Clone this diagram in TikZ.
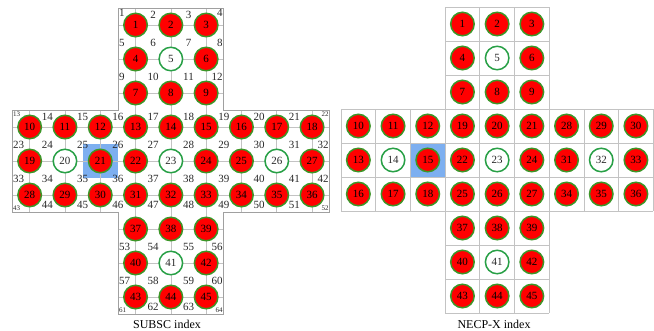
\documentclass[tikz,border=0pt]{standalone}
\usepackage{fontspec}
\setmainfont{Liberation Serif}
\definecolor{pinred}{RGB}{255,0,0}
\definecolor{pingreen}{RGB}{60,150,40}
\definecolor{ringgreen}{RGB}{40,160,70}
\definecolor{hl}{RGB}{125,175,240}
\definecolor{gridgray}{RGB}{195,195,195}
\definecolor{bordergray}{RGB}{160,160,160}
\definecolor{labgray}{RGB}{40,40,40}
\newcommand{\placepin}[5]{%
  \ifnum#5=1 \node[pine] (#4#3) at (#1,#2) {#3};%
  \else \node[pinf] (#4#3) at (#1,#2) {#3};\fi}
\newcommand{\slab}[5]{% k, m, n, kmin, kmax
  \pgfmathsetmacro{\lx}{12+35.3*#1}%
  \pgfmathsetmacro{\ly}{8+34*#2}%
  \pgfmathtruncatemacro{\edgerow}{((#2==0)||(#2==3)) ? 1 : (((#2==6)||(#2==9)) ? 2 : 0)}%
  \ifnum\edgerow=0
    \ifnum#1=#4 \node[sublab,anchor=west] (S#3) at (\lx+1,\ly+1) {#3};%
    \else\ifnum#1=#5 \node[sublab,anchor=east] (S#3) at (\lx-1,\ly+1) {#3};%
    \else \node[sublab] (S#3) at (\lx,\ly+1) {#3};\fi\fi
  \else
    \ifnum#3<10 \def\cst{sublab}\else\def\cst{cornlab}\fi
    \ifnum\edgerow=1
      \ifnum#1=#4 \node[\cst,anchor=north west] (S#3) at (\lx+1,\ly+1.5) {#3};%
      \else\ifnum#1=#5 \node[\cst,anchor=north east] (S#3) at (\lx-1,\ly+1.5) {#3};%
      \else \node[sublab] (S#3) at (\lx,\ly+6.5) {#3};\fi\fi
    \else
      \ifnum#1=#4 \node[cornlab,anchor=south west] (S#3) at (\lx+1,\ly-1) {#3};%
      \else\ifnum#1=#5 \node[cornlab,anchor=south east] (S#3) at (\lx-1,\ly-1) {#3};%
      \else \node[sublab] (S#3) at (\lx,\ly-7) {#3};\fi\fi
    \fi
  \fi}
\begin{document}
\begin{tikzpicture}[x=1pt,y=-1pt,
  pinf/.style={circle,fill=pinred,draw=pingreen,line width=1.5pt,minimum size=23.5pt,inner sep=0pt,font=\fontsize{11}{11}\selectfont},
  pine/.style={circle,fill=white,draw=ringgreen,line width=1.5pt,minimum size=23.5pt,inner sep=0pt,font=\fontsize{11}{11}\selectfont,text=labgray},
  sublab/.style={inner sep=0pt,font=\fontsize{11}{11}\selectfont,text=labgray},
  cornlab/.style={inner sep=0pt,font=\fontsize{7}{7}\selectfont,text=labgray},
  innerline/.style={draw=gridgray,line width=0.6pt},
  outline/.style={draw=bordergray,line width=0.8pt},
  necpline/.style={draw=gridgray,line width=0.7pt},
  hlcell/.style={fill=hl},
  caption/.style={font=\fontsize{12}{12}\selectfont,inner sep=0pt}]
\useasboundingbox (0,0) rectangle (654,330);
% ---------- highlighted cells ----------
\fill[hlcell] (12+35.3*2,8+34*4) rectangle (12+35.3*3,8+34*5);
\fill[hlcell] (341+34.7*2,7+34*4) rectangle (341+34.7*3,7+34*5);
% ---------- SUBSC grid (lines through pin centres) ----------
\foreach \ci in {3,4,5}{
  \draw[innerline] (12+35.3*\ci+17.65,8) -- (12+35.3*\ci+17.65,8+34*9);}
\foreach \ci in {0,1,2,6,7,8}{
  \draw[innerline] (12+35.3*\ci+17.65,8+34*3) -- (12+35.3*\ci+17.65,8+34*6);}
\foreach \ri in {3,4,5}{
  \draw[innerline] (12,8+34*\ri+17) -- (12+35.3*9,8+34*\ri+17);}
\foreach \ri in {0,1,2,6,7,8}{
  \draw[innerline] (12+35.3*3,8+34*\ri+17) -- (12+35.3*6,8+34*\ri+17);}
\draw[outline] (12+35.3*3,8) -- (12+35.3*6,8) -- (12+35.3*6,8+34*3) -- (12+35.3*9,8+34*3)
  -- (12+35.3*9,8+34*6) -- (12+35.3*6,8+34*6) -- (12+35.3*6,8+34*9) -- (12+35.3*3,8+34*9)
  -- (12+35.3*3,8+34*6) -- (12,8+34*6) -- (12,8+34*3) -- (12+35.3*3,8+34*3) -- cycle;
% ---------- NECP-X grid (cell boundaries) ----------
\foreach \ci in {0,...,9}{
  \draw[necpline] (341+34.7*\ci,7+34*3) -- (341+34.7*\ci,7+34*6);}
\foreach \ci in {3,4,5,6}{
  \draw[necpline] (341+34.7*\ci,7) -- (341+34.7*\ci,7+34*9);}
\foreach \ri in {3,4,5,6}{
  \draw[necpline] (341,7+34*\ri) -- (341+34.7*9,7+34*\ri);}
\foreach \ri in {0,...,9}{
  \draw[necpline] (341+34.7*3,7+34*\ri) -- (341+34.7*6,7+34*\ri);}
% ---------- pins ----------
\foreach \ri in {0,...,8}{
  \foreach \ci in {0,...,8}{
    \pgfmathtruncatemacro{\inarm}{((\ci>2)&&(\ci<6))||((\ri>2)&&(\ri<6))}
    \ifnum\inarm=1
      \pgfmathtruncatemacro{\nl}{\ri<3 ? 1+3*\ri+\ci-3 : (\ri<6 ? 10+9*(\ri-3)+\ci : 37+3*(\ri-6)+\ci-3)}
      \pgfmathtruncatemacro{\nr}{\ri<3 ? 1+3*\ri+\ci-3 : (\ri<6 ? 10+9*floor(\ci/3)+3*(\ri-3)+mod(\ci,3) : 37+3*(\ri-6)+\ci-3)}
      \pgfmathtruncatemacro{\el}{(\nl==5)||(\nl==20)||(\nl==23)||(\nl==26)||(\nl==41)}
      \pgfmathtruncatemacro{\er}{(\nr==5)||(\nr==14)||(\nr==23)||(\nr==32)||(\nr==41)}
      \pgfmathsetmacro{\xl}{12+35.3*(\ci+0.5)}
      \pgfmathsetmacro{\yl}{8+34*(\ri+0.5)}
      \pgfmathsetmacro{\xr}{341+34.7*(\ci+0.5)}
      \pgfmathsetmacro{\yr}{7+34*(\ri+0.5)}
      \placepin{\xl}{\yl}{\nl}{L}{\el}
      \placepin{\xr}{\yr}{\nr}{R}{\er}
    \fi
  }}
% ---------- SUBSC subchannel labels ----------
\foreach \m/\s in {0/1,1/5,2/9,7/53,8/57,9/61}{
  \foreach \k in {3,...,6}{
    \pgfmathtruncatemacro{\n}{\s+\k-3}
    \slab{\k}{\m}{\n}{3}{6}
  }}
\foreach \m/\s in {3/13,4/23,5/33,6/43}{
  \foreach \k in {0,...,9}{
    \pgfmathtruncatemacro{\n}{\s+\k}
    \slab{\k}{\m}{\n}{0}{9}
  }}
% ---------- captions ----------
\node[caption,anchor=base] (capL) at (167,328) {SUBSC index};
\node[caption,anchor=base] (capR) at (494,328) {NECP-X index};
\end{tikzpicture}
\end{document}
